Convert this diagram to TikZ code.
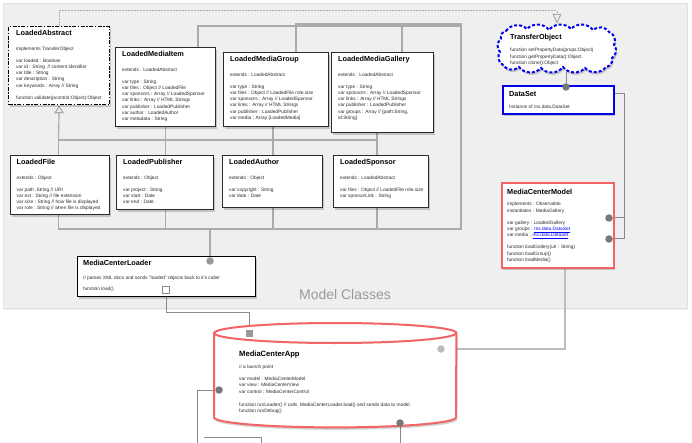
\documentclass[tikz,border=0pt]{standalone}
\usepackage{fontspec}
\setmainfont{Liberation Sans}
\usetikzlibrary{shadows,arrows.meta}
\definecolor{panel}{HTML}{EFEFEF}
\definecolor{panelline}{HTML}{E2E2E2}
\definecolor{boxline}{HTML}{2B2B2B}
\definecolor{cwire}{HTML}{ABABAB}
\definecolor{cwiredk}{HTML}{8A8A8A}
\definecolor{cwirelt}{HTML}{BDBDBD}
\definecolor{knobgray}{HTML}{787878}
\definecolor{knoblt}{HTML}{BBBBBB}
\definecolor{knobmid}{HTML}{999999}
\definecolor{bluebd}{HTML}{0000EE}
\definecolor{redbd}{HTML}{F26466}
\definecolor{txt}{HTML}{2B2B2B}
\definecolor{linkblue}{HTML}{0000FF}
\definecolor{labelgray}{HTML}{9A9A9A}
\pgfdeclarelayer{bg}
\pgfdeclarelayer{wires}
\pgfsetlayers{bg,wires,main}
\newcommand\ctitle[1]{\rule{0pt}{6pt}{\fontsize{7.3}{8}\selectfont\bfseries\color{black}#1}}
\newcommand\lnk[1]{\textcolor{linkblue}{\underline{#1}}}
\begin{document}
\begin{tikzpicture}[x=1pt,y=-1pt,
  shd/.style={drop shadow={shadow xshift=1.2pt,shadow yshift=-2.4pt,opacity=0.18,fill=black}},
  cls/.style={rectangle,draw=boxline,line width=1.4pt,fill=white,inner sep=0pt,anchor=north west,shd},
  txtb/.style={anchor=north west,inner sep=0pt,align=left,text=txt,font=\fontsize{4.8}{6.2}\selectfont},
  wire/.style={draw=cwire,line width=1.2pt},
  wirethick/.style={draw=cwire,line width=2.2pt},
  wiredk/.style={draw=cwiredk,line width=1pt},
  wirelt/.style={draw=cwirelt,line width=1.2pt},
  dotw/.style={draw=cwire,line width=1pt,dash pattern=on 1.5pt off 1.5pt},
  knob/.style={circle,fill=knobgray,inner sep=0pt,minimum size=7.5pt},
  sqknob/.style={rectangle,inner sep=0pt,minimum size=7pt},
  puff/.style={bend left=50}]
\useasboundingbox (0,0) rectangle (692,443);

\begin{pgfonlayer}{bg}
\fill[white] (0,0) rectangle (692,443);
\node[anchor=north west,inner sep=0pt,fill=panel,draw=panelline,line width=0.6pt,
  minimum width=684pt,minimum height=305pt,
  drop shadow={shadow xshift=1pt,shadow yshift=-2pt,opacity=0.12}] (panel) at (3,3) {};
\end{pgfonlayer}

\node[text=labelgray,font=\fontsize{14}{16}\selectfont] (mclab) at (345,294) {Model Classes};

% ---- row 1
\node[cls,draw=black,line width=1.4pt,dash pattern=on 4pt off 1.5pt on 1.5pt off 1.5pt,
  minimum width=101pt,minimum height=78pt] (abs) at (8,26) {};
\node[txtb] (absT) at ([xshift=8pt,yshift=-3.7pt]abs.north west)
 {\ctitle{LoadedAbstract}\\[8pt]
  implements TransferObject\\[6pt]
  var loaded : Boolean\\
  var id : String~~// content identifier\\
  var title : String\\
  var description : String\\
  var keywords : Array // String\\[6pt]
  function validate(pcontrol:Object):Object};

\node[cls,minimum width=100pt,minimum height=79pt] (mi) at (115,47) {};
\node[txtb] (miT) at ([xshift=7pt,yshift=-3.7pt]mi.north west)
 {\ctitle{LoadedMediaItem}\\[8pt]
  extends : LoadedAbstract\\[6pt]
  var type : String\\
  var files : Object // LoadedFile\\
  var sponsors : Array // LoadedSponsor\\
  var links : Array // HTML Strings\\
  var publisher : LoadedPublisher\\
  var author : LoadedAuthor\\
  var metadata : String};

\node[cls,minimum width=105pt,minimum height=74pt] (mg) at (223,52) {};
\node[txtb] (mgT) at ([xshift=7pt,yshift=-3.7pt]mg.north west)
 {\ctitle{LoadedMediaGroup}\\[8pt]
  extends : LoadedAbstract\\[6pt]
  var type : String\\
  var files : Object // LoadedFile role.size\\
  var sponsors : Array // LoadedSponsor\\
  var links : Array // HTML Strings\\
  var publisher : LoadedPublisher\\
  var media : Array [LoadedMedia]};

\node[cls,minimum width=102pt,minimum height=80pt] (mgal) at (331,52) {};
\node[txtb] (mgalT) at ([xshift=7pt,yshift=-3.7pt]mgal.north west)
 {\ctitle{LoadedMediaGallery}\\[8pt]
  extends : LoadedAbstract\\[6pt]
  var type : String\\
  var sponsors : Array // LoadedSponsor\\
  var links : Array // HTML Strings\\
  var publisher : LoadedPublisher\\
  var groups : Array // \{path:String,\\
  id:String\}};

% ---- row 2
\node[cls,minimum width=99pt,minimum height=59pt] (lf) at (10,155) {};
\node[txtb] (lfT) at ([xshift=6.5pt,yshift=-3.7pt]lf.north west)
 {\ctitle{LoadedFile}\\[8pt]
  extends : Object\\[6pt]
  var path :String // URI\\
  var ext : String // file extension\\
  var size : String // how file is displayed\\
  var role : String // when file is displayed};

\node[cls,minimum width=97pt,minimum height=54pt] (lp) at (116,155) {};
\node[txtb] (lpT) at ([xshift=7pt,yshift=-3.7pt]lp.north west)
 {\ctitle{LoadedPublisher}\\[8pt]
  extends : Object\\[6pt]
  var project : String\\
  var start : Date\\
  var end : Date};

\node[cls,minimum width=100pt,minimum height=52pt] (la) at (222,155) {};
\node[txtb] (laT) at ([xshift=7pt,yshift=-3.7pt]la.north west)
 {\ctitle{LoadedAuthor}\\[8pt]
  extends : Object\\[6pt]
  var copyright : String\\
  var date : Date};

\node[cls,minimum width=95pt,minimum height=52pt] (ls) at (333,155) {};
\node[txtb] (lsT) at ([xshift=7pt,yshift=-3.7pt]ls.north west)
 {\ctitle{LoadedSponsor}\\[8pt]
  extends : LoadedAbstract\\[6pt]
  var files : Object // LoadedFile role.size\\
  var sponsorLink : String};

% ---- right column: TransferObject cloud
\node[inner sep=0pt,minimum width=120pt,minimum height=48pt] (to) at (557,48) {};
\draw[draw=bluebd,line width=2pt,dash pattern=on 3pt off 2pt,fill=white,shd]
  (506,31) to[puff] (527,29) to[puff] (549,30) to[puff] (571,29) to[puff] (593,30)
  to[puff] (609,32) to[puff] (614,45) to[puff] (612,58) to[puff] (606,67)
  to[puff] (585,68) to[puff] (563,67) to[puff] (541,68) to[puff] (519,67)
  to[puff] (503,65) to[puff] (500,52) to[puff] (501,39) to[puff] (506,31) -- cycle;
\node[txtb] (toT) at (510,33.5)
 {\ctitle{TransferObject}\\[6pt]
  function setPropertyData(props:Object)\\
  function getPropertyData():Object\\
  function clone():Object};

\node[cls,draw=bluebd,line width=2pt,minimum width=111pt,minimum height=28pt] (ds) at (502,85) {};
\node[txtb] (dsT) at (509,90.5)
 {\ctitle{DataSet}\\[6pt]
  Instance of mx.data.DataSet};

\node[cls,draw=redbd,line width=2pt,minimum width=112pt,minimum height=85pt] (mcm) at (501,182) {};
\node[txtb] (mcmT) at (507,188)
 {\ctitle{MediaCenterModel}\\[5.5pt]
  implements : Observable\\
  instantiates : MediaGallery\\[6pt]
  var gallery : LoadedGallery\\
  var groups : \lnk{mx.data.DataSet}\\
  var media : \lnk{mx.data.DataSet}\\[6pt]
  function loadGallery(url : String)\\
  function loadGroup()\\
  function loadMedia()};

% ---- loader
\node[cls,draw=black,line width=1.2pt,minimum width=178pt,minimum height=40pt] (mcl) at (77,256) {};
\node[txtb] (mclT) at (83,259.7)
 {\ctitle{MediaCenterLoader}\\[7.5pt]
  // parses XML docs and sends "loaded" objects back to it's caller\\[4.8pt]
  function load()};

% ---- app (cylinder)
\node[anchor=north west,inner sep=0pt,minimum width=242pt,minimum height=84pt] (app) at (214,333) {};
\path[draw=redbd,line width=2pt,fill=white,shd]
  (app.north west) -- (app.south west)
  arc[start angle=180,end angle=360,x radius=121pt,y radius=10pt]
  -- (app.north east)
  arc[start angle=0,end angle=180,x radius=121pt,y radius=10pt] -- cycle;
\draw[draw=redbd,line width=2pt] (app.north west)
  arc[start angle=180,end angle=360,x radius=121pt,y radius=10pt];
\node[txtb] (appT) at (239,350)
 {\rule{0pt}{6pt}{\fontsize{7.6}{8}\selectfont\bfseries\color{black}MediaCenterApp}\\[6.3pt]
  // a launch point\\[5.8pt]
  var model : MediaCenterModel\\
  var view : MediaCenterView\\
  var control : MediaCenterControl\\[6.8pt]
  function runLoader() // calls~ MediaCenterLoader.load() and sends data to model\\
  function runDebug()};

% ---- knobs
\node[knob] (cds) at (566,87) {};
\node[knob] (cm1) at (609,218) {};
\node[knob] (cm2) at (609,239) {};
\node[knob,fill=knobmid] (cml) at (210,261) {};
\node[sqknob,draw=cwiredk,fill=white,line width=1pt] (sml) at (166,290) {};
\node[sqknob,fill=knobmid] (sapp) at (249,333) {};
\node[knob,fill=knoblt] (capr) at (441,349) {};
\node[knob] (capl) at (219,390) {};
\node[knob] (capb) at (400,423) {};

% ---- coordinates
\coordinate (dl) at (557,11);
\coordinate (j1) at (58.5,140);
\coordinate (j4) at (377,140);
\coordinate (k1) at (58.5,229);
\coordinate (kR) at (461,229);
\coordinate (kL) at (210,229);
\coordinate (tR) at (461,24);
\coordinate (tG) at (296,24);
\coordinate (uR) at (461,26);
\coordinate (uI) at (198,26);
\coordinate (uG) at (402,26);
\coordinate (x3) at (273,0);
\coordinate (x4) at (377,0);
\coordinate (rr) at (624,0);
\coordinate (mb) at (565,0);
\coordinate (hL) at (0,312);
\coordinate (bL) at (197,443);
\coordinate (bA) at (204,437);
\coordinate (bB) at (261,437);
\coordinate (bC) at (261,443);

\begin{pgfonlayer}{wires}
\draw[dotw,-{Triangle[open,length=10pt,width=9pt]}] (abs.north) |- (dl) -- (to.north);
\draw[wire,-{Triangle[open,length=8pt,width=10pt]}] (j1) -- (abs.south);
\draw[wire] (j1) -- (j4);
\draw[wire] (j1) -- (k1) -- (kR);
\draw[wire] (mi.south) -- (mi.south |- k1);
\draw[wire] (mg.south -| x3) -- (x3 |- k1);
\draw[wire] (mgal.south -| x4) -- (x4 |- k1);
\draw[wire] (mi.north -| uI) -- (uI) -- (uR);
\draw[wire] (mgal.north -| uG) -- (uG);
\draw[wirethick] (mg.north -| tG) -- (tG) -- (tR) -- (kR) -- (kL) -- (cml);
\draw[wiredk] (cds |- to.south) -- (cds);
\draw[wiredk] ([yshift=6pt]ds.east) -| (rr |- cm2) -- (cm2);
\draw[wiredk] (rr |- cm1) -- (cm1);
\draw[wirelt] (mcm.south -| mb) -- (mb |- capr) -- (capr);
\draw[wiredk] (sml) -- (sml |- hL) -| (sapp);
\draw[wiredk] (capl) -- (capl -| bL) -- (bL);
\draw[wiredk] (bA) -- (bB) -- (bC);
\draw[wiredk] (capb) -- (capb |- bL);
\end{pgfonlayer}
\end{tikzpicture}
\end{document}
